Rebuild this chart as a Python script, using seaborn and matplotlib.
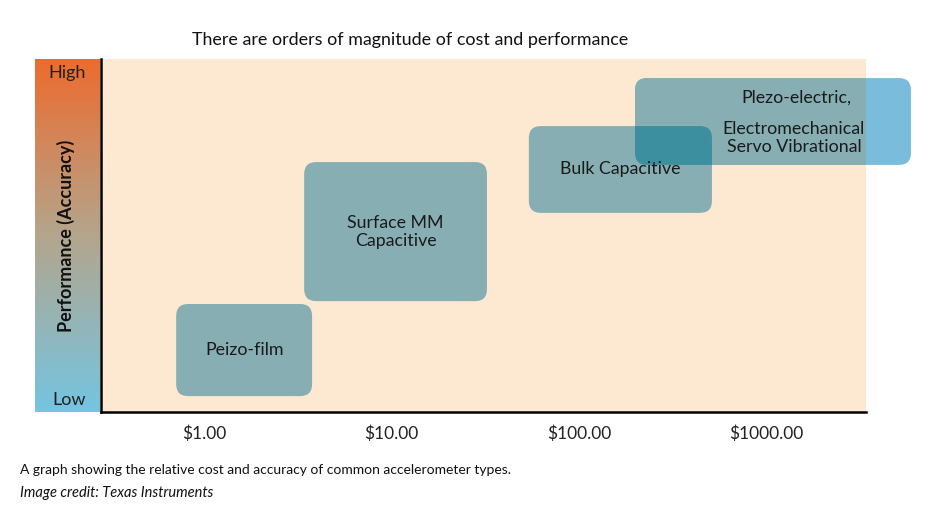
import numpy as np
import matplotlib
matplotlib.use("Agg")
import matplotlib.pyplot as plt
import seaborn as sns
from matplotlib.patches import FancyBboxPatch
from matplotlib.colors import LinearSegmentedColormap
from matplotlib.transforms import IdentityTransform

# accelerometer types: cost range ($) and relative performance (0 = low, 1 = high)
sensors = ["Peizo-film", "Surface MM\nCapacitive", "Bulk Capacitive", "Plezo-electric"]
cost_low = [0.71, 3.42, 54, 199]
cost_high = [3.77, 32.3, 512, 5900]
perf_low = [0.045, 0.314, 0.564, 0.700]
perf_high = [0.306, 0.708, 0.810, 0.946]

tick_values = [1, 10, 100, 1000]
tick_labels = ["$1.00", "$10.00", "$100.00", "$1000.00"]

sns.set_theme(style="white")
plt.rcParams['font.family'] = ['Lato', 'DejaVu Sans']

fig = plt.figure(figsize=(9.37, 5.21), dpi=100)
ax = fig.add_axes([101 / 937, 1 - 412 / 521, 765 / 937, 353 / 521])
ax.set_facecolor("#fde9d1")
ax.set_xscale("log")
ax.set_xlim(0.282, 3396)
ax.set_ylim(0, 1)
ax.set_xticks(tick_values)
ax.set_xticklabels(tick_labels, fontsize=12.5, color="#222222")
ax.minorticks_off()
ax.set_yticks([])
ax.tick_params(axis="x", length=0, pad=10)
sns.despine(ax=ax)
for side in ["left", "bottom"]:
    ax.spines[side].set_color("black")
    ax.spines[side].set_linewidth(1.8)

teal = "#87afb3"
light_blue = "#7abcdc"
dark_teal = "#3c8f9f"
radius = 12


def make_box(i, color):
    x0, y0 = ax.transData.transform((cost_low[i], perf_low[i]))
    x1, y1 = ax.transData.transform((cost_high[i], perf_high[i]))
    return FancyBboxPatch((x0, y0), x1 - x0, y1 - y0,
                          boxstyle=f"round,pad=0,rounding_size={radius}",
                          transform=IdentityTransform(), facecolor=color,
                          edgecolor="none")


for i in range(3):
    ax.add_artist(make_box(i, teal))
    cx = np.sqrt(cost_low[i] * cost_high[i])
    cy = (perf_low[i] + perf_high[i]) / 2
    ax.text(cx, cy, sensors[i], ha="center", va="center", fontsize=12.8,
            color="#1a1a1a", linespacing=1.15)

# plezo box sticks out past the axes, shown lighter on white
outer = make_box(3, light_blue)
outer.set_clip_on(False)
ax.add_artist(outer)
inner = make_box(3, teal)
ax.add_artist(inner)
overlap = make_box(2, dark_teal)
overlap.set_clip_path(inner)
ax.add_artist(overlap)

ax.text(1437, 0.89, "Plezo-electric,", ha="center", va="center", fontsize=12.8,
        color="#1a1a1a")
ax.text(1400, 0.776, "Electromechanical\nServo Vibrational", ha="center",
        va="center", fontsize=12.8, color="#1a1a1a", linespacing=1.1)

# performance gradient bar
gax = fig.add_axes([35 / 937, 1 - 412 / 521, 65 / 937, 353 / 521])
cmap = LinearSegmentedColormap.from_list("perf", ["#74c4e1", "#b3a58c", "#ec6b2e"])
grad = np.linspace(1, 0, 256).reshape(-1, 1)
sns.heatmap(grad, cmap=cmap, cbar=False, ax=gax, xticklabels=False,
            yticklabels=False, vmin=0, vmax=1)
gax.text(0.5, 0.96, "High", transform=gax.transAxes, ha="center", va="center",
         fontsize=13, color="#222222")
gax.text(0.52, 0.035, "Low", transform=gax.transAxes, ha="center", va="center",
         fontsize=13, color="#222222")
gax.text(0.48, 0.5, "Performance (Accuracy)", transform=gax.transAxes,
         rotation=90, ha="center", va="center", fontsize=13,
         fontweight="bold", color="#111111")

fig.text(410 / 937, 1 - 40 / 521, "There are orders of magnitude of cost and performance",
         ha="center", va="center", fontsize=12.9, color="#111111")
fig.text(20 / 937, 1 - 470 / 521,
         "A graph showing the relative cost and accuracy of common accelerometer types.",
         ha="left", va="center", fontsize=10, color="#111111")
fig.text(20 / 937, 1 - 493 / 521, "Image credit: Texas Instruments",
         ha="left", va="center", fontsize=10.5, style="italic", color="#111111")

fig.savefig("out.png", dpi=100)
